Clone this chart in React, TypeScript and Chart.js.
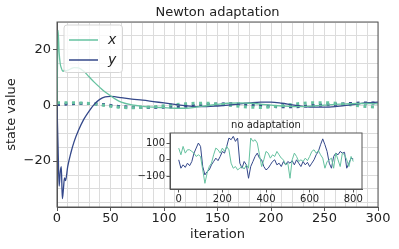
import React, { useEffect, useRef } from 'react';
import { Chart, registerables } from 'chart.js';
Chart.register(...registerables);

const FONT = "'DejaVu Sans', sans-serif";
const GREEN = '#66c2a0';
const BLUE = '#34488a';
const GRID = '#dcdcdc';
const SPINE = '#555555';
const TEXT = '#222222';

// main plot ("Newton adaptation")
const mainIter = [0, 1, 2, 3, 4, 5, 6, 7, 8, 10, 13, 16, 20, 25, 30, 35, 40, 45, 50, 55, 60, 70, 80, 90, 100, 110, 120, 130, 140, 150, 160, 170, 180, 190, 200, 210, 220, 230, 240, 250, 260, 270, 280, 290, 300];
const xAdapt = [0, 27, 19, 15, 13.5, 12.5, 12.3, 12.8, 12.5, 12.6, 13.2, 13.6, 13.5, 12.3, 10.3, 8.3, 6.5, 4.8, 3.5, 2.2, 1.2, 0.2, -0.3, -0.6, -0.8, -1, -1, -0.6, -0.1, 0.4, 0.8, 0.9, 0.8, 0.5, 0.1, -0.2, -0.4, -0.4, -0.2, 0.1, 0.4, 0.6, 0.7, 0.7, 0.6];
const yAdapt = [0, -15, -29, -24, -22, -33.5, -30, -26, -27, -22, -17, -13, -9, -5, -2, 0.5, 2.2, 3.1, 3.3, 3.1, 2.8, 2.3, 1.9, 1.4, 0.9, 0.4, -0.1, -0.4, -0.4, -0.2, 0.1, 0.5, 0.9, 1.2, 1.2, 0.8, 0.2, -0.3, -0.6, -0.6, -0.4, 0, 0.5, 1, 1.2];
const dotIter = [0, 10, 20, 30, 40, 50, 60, 70, 80, 90, 100, 110, 120, 130, 140, 150, 160, 170, 180, 190, 200, 210, 220, 230, 240, 250, 260, 270, 280, 290, 300];
const xDotted = [1.0, 1.0, 0.9, 0.7, 0.3, -0.3, -0.7, -0.8, -0.7, -0.5, -0.1, 0.3, 0.6, 0.8, 0.8, 0.5, 0.1, -0.3, -0.6, -0.7, -0.5, -0.1, 0.4, 0.8, 1.0, 1.0, 0.8, 0.4, 0, -0.4, -0.6];
const yDotted = [0.3, 0.5, 0.7, 0.7, 0.4, 0, -0.4, -0.6, -0.7, -0.7, -0.6, -0.5, -0.3, 0, 0.3, 0.5, 0.6, 0.5, 0.3, 0, -0.3, -0.5, -0.5, -0.3, 0, 0.2, 0.4, 0.6, 0.8, 0.9, 0.9];

// inset ("no adaptation")
const insetIter = Array.from({ length: 81 }, (_, i) => i * 10);
const xNoAdapt = [70, 30, 80, 40, 60, 60, 50, 40, 20, 30, 20, -60, -140, -80, -40, -20, 30, 70, 60, 40, 70, 50, 80, 60, -20, -50, -40, -60, -50, -40, -55, -30, -50, 130, 110, 120, 100, 30, -40, 0, 50, 40, 10, 30, 20, 50, 30, 10, 0, -30, -20, -110, 0, 40, 20, -10, 0, -10, 10, -5, 20, 50, 60, 40, 55, 30, 10, -50, -10, 0, 10, -50, 40, 0, -40, 40, 30, 0, -40, 20, -10];
const yNoAdapt = [0, -50, -30, -45, -20, -35, -10, 40, 70, 100, 80, -40, -90, -70, -60, -30, -10, 10, -5, 20, 50, 40, 80, 130, 120, 140, 110, 130, -20, -50, -10, -30, -110, -40, -10, 20, 40, 10, 0, -40, -60, -50, -30, -10, 0, -30, -20, -40, -10, -30, -10, -20, -5, -30, 0, -20, -40, -10, -30, -15, -40, -20, 0, 30, 50, 90, 125, 90, 50, -20, -50, 20, 40, 30, 50, 40, 45, -50, -20, 10, 5];

const xTicksMain = [0, 50, 100, 150, 200, 250, 300];
const yTicksMain = [-20, 0, 20];

const fmt = (v: number) => (v < 0 ? '\u2212' + Math.abs(v) : String(v));
const pts = (xs: number[], ys: number[]) => xs.map((x, i) => ({ x, y: ys[i] }));

const mainDecor = {
  id: 'mainDecor',
  afterDatasetsDraw(chart: any) {
    const { ctx, chartArea: a } = chart;
    ctx.save();
    // frame top/right
    ctx.strokeStyle = SPINE;
    ctx.lineWidth = 1;
    ctx.strokeRect(a.left, a.top, a.right - a.left, a.bottom - a.top);
    // legend
    const bx = a.left + 7, by = a.top + 3, bw = 58.5, bh = 47.5, r = 3;
    ctx.beginPath();
    ctx.moveTo(bx + r, by);
    ctx.arcTo(bx + bw, by, bx + bw, by + bh, r);
    ctx.arcTo(bx + bw, by + bh, bx, by + bh, r);
    ctx.arcTo(bx, by + bh, bx, by, r);
    ctx.arcTo(bx, by, bx + bw, by, r);
    ctx.closePath();
    ctx.fillStyle = 'rgba(255,255,255,0.8)';
    ctx.fill();
    ctx.strokeStyle = '#d6d6d6';
    ctx.stroke();
    const entries = chart.data.datasets.filter((d: any) => d.inLegend);
    entries.forEach((d: any, i: number) => {
      const y = by + 15 + i * 20;
      ctx.strokeStyle = d.borderColor;
      ctx.lineWidth = 1.5;
      ctx.beginPath();
      ctx.moveTo(bx + 5, y);
      ctx.lineTo(bx + 34, y);
      ctx.stroke();
      ctx.fillStyle = TEXT;
      ctx.font = `italic 14px ${FONT}`;
      ctx.textBaseline = 'middle';
      ctx.textAlign = 'left';
      ctx.fillText(d.label, bx + 44, y);
    });
    ctx.restore();
  },
  afterDraw(chart: any) {
    const { ctx, chartArea: a } = chart;
    ctx.save();
    ctx.fillStyle = TEXT;
    ctx.textAlign = 'center';
    ctx.textBaseline = 'middle';
    ctx.font = `13px ${FONT}`;
    ctx.fillText('Newton adaptation', (a.left + a.right) / 2, 13);
    ctx.fillText('iteration', (a.left + a.right) / 2, 235);
    ctx.translate(12, (a.top + a.bottom) / 2);
    ctx.rotate(-Math.PI / 2);
    ctx.fillText('state value', 0, 0);
    ctx.restore();
  },
};

const insetDecor = {
  id: 'insetDecor',
  beforeDraw(chart: any) {
    const { ctx, chartArea: a } = chart;
    ctx.save();
    ctx.fillStyle = '#ffffff';
    ctx.fillRect(a.left, a.top, a.right - a.left, a.bottom - a.top);
    ctx.restore();
  },
  afterDraw(chart: any) {
    const { ctx, chartArea: a } = chart;
    ctx.save();
    ctx.strokeStyle = SPINE;
    ctx.lineWidth = 1;
    ctx.strokeRect(a.left, a.top, a.right - a.left, a.bottom - a.top);
    ctx.fillStyle = TEXT;
    ctx.font = `10px ${FONT}`;
    ctx.textAlign = 'center';
    ctx.textBaseline = 'middle';
    ctx.fillText('no adaptation', (a.left + a.right) / 2, a.top - 8);
    ctx.restore();
  },
};

export default function App() {
  const mainRef = useRef<HTMLCanvasElement>(null);
  const insetRef = useRef<HTMLCanvasElement>(null);

  useEffect(() => {
    document.body.style.margin = '0';
    const main = new Chart(mainRef.current!, {
      type: 'line',
      data: {
        datasets: [
          { label: 'x', inLegend: true, data: pts(mainIter, xAdapt), borderColor: GREEN, borderWidth: 1.3, pointRadius: 0, cubicInterpolationMode: 'monotone', fill: false } as any,
          { label: 'y', inLegend: true, data: pts(mainIter, yAdapt), borderColor: BLUE, borderWidth: 1.3, pointRadius: 0, cubicInterpolationMode: 'monotone', fill: false } as any,
          { label: 'x dotted', data: pts(dotIter, xDotted), borderColor: GREEN, borderWidth: 3, borderDash: [3, 4.5], borderCapStyle: 'butt', pointRadius: 0, cubicInterpolationMode: 'monotone', fill: false } as any,
          { label: 'y dotted', data: pts(dotIter, yDotted), borderColor: BLUE, borderWidth: 3, borderDash: [3, 4.5], borderCapStyle: 'butt', pointRadius: 0, cubicInterpolationMode: 'monotone', fill: false } as any,
        ],
      },
      options: {
        animation: false,
        responsive: false,
        devicePixelRatio: 1,
        parsing: false as any,
        layout: { padding: { top: 22, right: 21, left: 0, bottom: 0 } },
        plugins: { legend: { display: false }, tooltip: { enabled: false }, title: { display: false } },
        scales: {
          x: {
            type: 'linear',
            min: 0,
            max: 300,
            afterFit: (s: any) => { s.height = 42; },
            grid: { color: GRID, lineWidth: 1, tickLength: 4, tickColor: (c: any) => (c.tick && xTicksMain.includes(c.tick.value) ? SPINE : 'rgba(0,0,0,0)') },
            border: { display: true, color: SPINE, width: 1 },
            ticks: {
              stepSize: 10,
              includeBounds: false,
              autoSkip: false,
              maxRotation: 0,
              padding: 0,
              color: TEXT,
              font: { family: FONT, size: 13 },
              callback: (v: any) => (xTicksMain.includes(Number(v)) ? fmt(Number(v)) : ''),
            },
          },
          y: {
            type: 'linear',
            min: -36.5,
            max: 30,
            afterFit: (s: any) => { s.width = 57; },
            grid: { color: GRID, lineWidth: 1, tickLength: 4, tickColor: (c: any) => (c.tick && yTicksMain.includes(c.tick.value) ? SPINE : 'rgba(0,0,0,0)') },
            border: { display: true, color: SPINE, width: 1 },
            ticks: {
              stepSize: 5,
              includeBounds: false,
              autoSkip: false,
              padding: 2,
              color: TEXT,
              font: { family: FONT, size: 13 },
              callback: (v: any) => (yTicksMain.includes(Number(v)) ? fmt(Number(v)) : ''),
            },
          },
        },
      },
      plugins: [mainDecor],
    });

    const inset = new Chart(insetRef.current!, {
      type: 'line',
      data: {
        datasets: [
          { label: 'x', data: pts(insetIter, xNoAdapt), borderColor: GREEN, borderWidth: 1, pointRadius: 0, tension: 0, fill: false },
          { label: 'y', data: pts(insetIter, yNoAdapt), borderColor: BLUE, borderWidth: 1, pointRadius: 0, tension: 0, fill: false },
        ],
      },
      options: {
        animation: false,
        responsive: false,
        devicePixelRatio: 1,
        parsing: false as any,
        layout: { padding: { top: 19, right: 8, left: 0, bottom: 0 } },
        plugins: { legend: { display: false }, tooltip: { enabled: false } },
        scales: {
          x: {
            type: 'linear',
            min: -40,
            max: 840,
            afterFit: (s: any) => { s.height = 17; },
            grid: { drawOnChartArea: false, drawTicks: true, tickLength: 3.5, tickColor: SPINE },
            border: { display: true, color: SPINE, width: 1 },
            ticks: { stepSize: 200, includeBounds: false, autoSkip: false, maxRotation: 0, padding: 1, color: TEXT, font: { family: FONT, size: 10 }, callback: (v: any) => fmt(Number(v)) },
          },
          y: {
            type: 'linear',
            min: -174,
            max: 160,
            afterFit: (s: any) => { s.width = 35; },
            grid: { drawOnChartArea: false, drawTicks: true, tickLength: 3.5, tickColor: SPINE },
            border: { display: true, color: SPINE, width: 1 },
            ticks: { stepSize: 100, includeBounds: false, autoSkip: false, padding: 1.5, color: TEXT, font: { family: FONT, size: 10 }, callback: (v: any) => fmt(Number(v)) },
          },
        },
      },
      plugins: [insetDecor],
    });

    return () => {
      main.destroy();
      inset.destroy();
    };
  }, []);

  return (
    <div style={{ position: 'relative', width: 399, height: 249 }}>
      <canvas ref={mainRef} width={399} height={249} style={{ position: 'absolute', left: 0, top: 0, display: 'block' }} />
      <canvas ref={insetRef} width={235} height={92} style={{ position: 'absolute', left: 135, top: 114, display: 'block' }} />
    </div>
  );
}
